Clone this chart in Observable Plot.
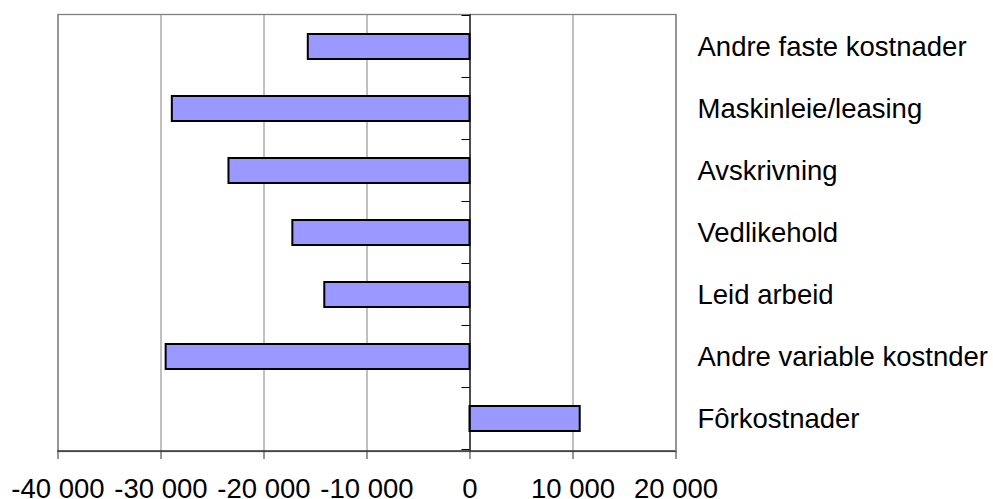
<!DOCTYPE html>
<html>
<head>
<meta charset="utf-8">
<script src="https://cdn.jsdelivr.net/npm/d3@7"></script>
<script src="https://cdn.jsdelivr.net/npm/@observablehq/plot@0.6"></script>
<style>
  html, body { margin: 0; padding: 0; background: #fff; }
</style>
</head>
<body>
<div id="chart"></div>
<script>
const categories = [
  "Andre faste kostnader",
  "Maskinleie/leasing",
  "Avskrivning",
  "Vedlikehold",
  "Leid arbeid",
  "Andre variable kostnder",
  "Fôrkostnader"
];
const values = [-15700, -28900, -23400, -17200, -14100, -29500, 10700];
const xTicks = [-40000, -30000, -20000, -10000, 0, 10000, 20000];

const data = categories.map((c, i) => ({category: c, value: values[i]}));

const fmt = d3.formatLocale({
  decimal: ",", thousands: " ", grouping: [3], currency: ["", " kr"], minus: "-"
}).format(",d");

// Category-boundary ticks on the zero axis plus the dark bottom axis line
function boundaryTicks(index, scales, vals, dimensions) {
  const g = d3.create("svg:g");
  const x0 = scales.x(0);
  const centers = categories.map(c => scales.y(c) + (scales.y.bandwidth ? scales.y.bandwidth() / 2 : 0));
  const step = centers.length > 1 ? centers[1] - centers[0] : 0;
  const bounds = [centers[0] - step / 2, ...centers.map(c => c + step / 2)];
  for (const b of bounds) {
    g.append("line")
      .attr("x1", x0 - 8).attr("x2", x0)
      .attr("y1", b).attr("y2", b)
      .attr("stroke", "#000").attr("stroke-width", 1);
  }
  const yb = dimensions.height - dimensions.marginBottom;
  g.append("line")
    .attr("x1", dimensions.marginLeft).attr("x2", dimensions.width - dimensions.marginRight)
    .attr("y1", yb).attr("y2", yb)
    .attr("stroke", "#333").attr("stroke-width", 1.3);
  return g.node();
}

const chart = Plot.plot({
  width: 993,
  height: 499,
  marginLeft: 57.5,
  marginRight: 317.5,
  marginTop: 14,
  marginBottom: 48,
  style: {fontFamily: "'Liberation Sans', Arial, sans-serif", background: "#fff", overflow: "visible", color: "#000"},
  x: {domain: [-40000, 20000]},
  y: {domain: categories, paddingInner: 0.6, paddingOuter: 0.3},
  marks: [
    Plot.gridX({ticks: xTicks, stroke: "#808080", strokeOpacity: 1, strokeWidth: 1}),
    Plot.frame({stroke: "#808080", strokeWidth: 1.3}),
    Plot.barX(data, {x: "value", y: "category", fill: "#9999ff", stroke: "#000", strokeWidth: 2}),
    Plot.ruleX([0], {stroke: "#000", strokeWidth: 1.2}),
    boundaryTicks,
    Plot.axisX({ticks: xTicks, tickFormat: fmt, tickSize: 8, tickPadding: 19, fontSize: 27.5, stroke: "#333", label: null}),
    Plot.axisY({anchor: "right", tickSize: 0, tickPadding: 21.5, fontSize: 27.5, label: null})
  ]
});

document.getElementById("chart").appendChild(chart);
</script>
</body>
</html>
